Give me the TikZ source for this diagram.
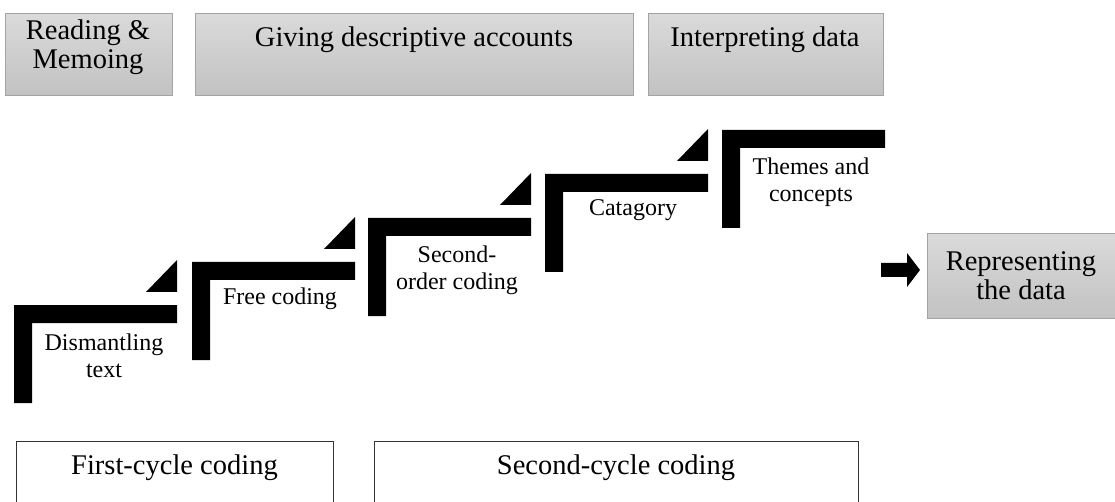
\documentclass[tikz,border=0pt]{standalone}
\usepackage{fontspec}
\setmainfont{Liberation Serif}
\definecolor{boxtop}{HTML}{DADADA}
\definecolor{boxbot}{HTML}{C2C2C2}
\definecolor{boxborder}{HTML}{A3A3A3}
\definecolor{cycleline}{HTML}{333333}
\begin{document}
\begin{tikzpicture}[x=1pt,y=-1pt,
  graybox/.style={draw=boxborder, line width=0.9pt, top color=boxtop, bottom color=boxbot, inner sep=0pt, anchor=north west},
  cyclebox/.style={draw=cycleline, line width=1.3pt, fill=white, inner sep=0pt, anchor=north west},
  steplbl/.style={font=\fontsize{24}{27}\selectfont, align=center, inner sep=0pt},
  toplbl/.style={font=\fontsize{28.5}{29}\selectfont, align=center, inner sep=0pt},
  stepbar/.style={fill=black}]
\useasboundingbox (0,0) rectangle (1115,502);
\clip (0,0) rectangle (1115,502);
% top boxes
\node[graybox, minimum width=167pt, minimum height=82pt] (read) at (5,13) {};
\node[graybox, minimum width=438pt, minimum height=82pt] (give) at (195,13) {};
\node[graybox, minimum width=235pt, minimum height=82pt] (interp) at (648,13) {};
\node[toplbl] (readlbl) at (88,47) {Reading \&\\Memoing};
\node[toplbl, anchor=base] (givelbl) at (414,47) {Giving descriptive accounts};
\node[toplbl, anchor=base] (interplbl) at (765,47) {Interpreting data};
% steps
\foreach \sx/\sy/\tri [count=\i] in {14/305/1, 192/262/1, 368/218/1, 545/174/1, 722/130/0}{
  \fill[stepbar] (\sx,\sy) -- ++(163,0) -- ++(0,18) -- ++(-145,0) -- ++(0,80) -- ++(-18,0) -- cycle;
  \ifnum\tri=1
    \fill[stepbar] (\sx+132,\sy-13) -- (\sx+163,\sy-13) -- (\sx+163,\sy-45) -- cycle;
  \fi
}
\node[steplbl] (s1) at (104,356) {Dismantling\\text};
\node[steplbl] (s2) at (280,299) {Free coding};
\node[steplbl] (s3) at (457,270) {Second-\\order coding};
\node[steplbl] (s4) at (633,210) {Catagory};
\node[steplbl] (s5) at (811,182) {Themes and\\concepts};
% arrow and final box
\node[graybox, minimum width=190pt, minimum height=85pt] (rep) at (927,233) {};
\node[toplbl] (replbl) at (1021,276) {Representing\\the data};
\coordinate (arrtail) at (881,270);
\fill (arrtail) ++(0,-7) -- (907,263) -- (907,253) -- (920,270) -- (907,287) -- (907,277) -- (881,277) -- cycle;
% bottom boxes
\node[cyclebox, minimum width=317pt, minimum height=90pt] (first) at (16,441) {};
\node[cyclebox, minimum width=484pt, minimum height=90pt] (second) at (374,441) {};
\node[toplbl, anchor=base] (firstlbl) at (174.5,474) {First-cycle coding};
\node[toplbl, anchor=base] (secondlbl) at (616,474) {Second-cycle coding};
\end{tikzpicture}
\end{document}
